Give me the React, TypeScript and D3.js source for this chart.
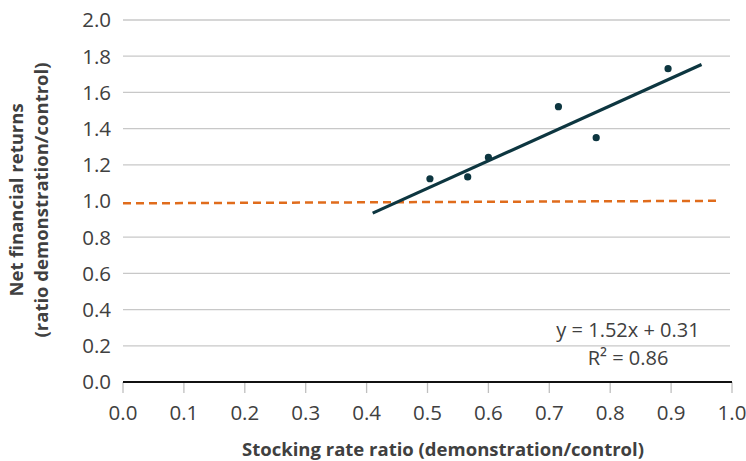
import React from "react";
import * as d3 from "d3";

const pointX = [0.504, 0.566, 0.6, 0.715, 0.777, 0.895];
const pointY = [1.123, 1.133, 1.241, 1.521, 1.35, 1.731];
const trendX = [0.41, 0.95];
const slope = 1.52;
const intercept = 0.31;
const refX = [0, 0.975];
const refY = [0.987, 1.001];
const xTicks = [0, 0.1, 0.2, 0.3, 0.4, 0.5, 0.6, 0.7, 0.8, 0.9, 1.0];
const yTicks = [0, 0.2, 0.4, 0.6, 0.8, 1.0, 1.2, 1.4, 1.6, 1.8, 2.0];
const equationText = "y = 1.52x + 0.31";
const r2Text = "R² = 0.86";
const xTitle = "Stocking rate ratio (demonstration/control)";
const yTitle1 = "Net financial returns";
const yTitle2 = "(ratio demonstration/control)";

export default function App() {
  const W = 746, H = 461;
  const x = d3.scaleLinear().domain([0, 1]).range([123, 732]);
  const y = d3.scaleLinear().domain([0, 2]).range([382, 20]);
  const font = "'Open Sans', 'Noto Sans', sans-serif";
  const textColor = "#404040";
  const line = d3.line<[number, number]>().x(d => x(d[0])).y(d => y(d[1]));
  const trendPts: [number, number][] = trendX.map(v => [v, slope * v + intercept]);
  const refPts: [number, number][] = refX.map((v, i) => [v, refY[i]]);
  return (
    <svg width={W} height={H} style={{ position: "absolute", left: 0, top: 0 }} fontFamily={font}>
      <rect width={W} height={H} fill="#fff" />
      {yTicks.filter(t => t > 0 && t !== 1.0).map(t => (
        <line key={"g" + t} x1={x(0)} x2={730} y1={y(t)} y2={y(t)} stroke="#c8c8c8" strokeWidth={1.3} />
      ))}
      {xTicks.map(t => (
        <line key={"xt" + t} x1={x(t)} x2={x(t)} y1={y(0)} y2={y(0) + 11} stroke="#bfbfbf" strokeWidth={1.3} />
      ))}
      <line x1={x(0)} x2={x(1)} y1={y(0)} y2={y(0)} stroke="#111" strokeWidth={2.2} />
      {yTicks.map(t => (
        <text key={"yl" + t} x={111} y={y(t)} dy="0.36em" textAnchor="end" fontSize={20.5} fill={textColor}>
          {d3.format(".1f")(t)}
        </text>
      ))}
      {xTicks.map(t => (
        <text key={"xl" + t} x={x(t)} y={420} textAnchor="middle" fontSize={20.5} fill={textColor}>
          {d3.format(".1f")(t)}
        </text>
      ))}
      <path d={line(refPts) || ""} stroke="#e06c1c" strokeWidth={2.5} strokeDasharray="8,5" fill="none" />
      <path d={line(trendPts) || ""} stroke="#0d3640" strokeWidth={3.2} fill="none" />
      {pointX.map((v, i) => (
        <circle key={"p" + i} cx={x(v)} cy={y(pointY[i])} r={3.6} fill="#0d3640" />
      ))}
      <text x={628} y={337} textAnchor="middle" fontSize={20} fill={textColor}>{equationText}</text>
      <text x={628} y={365} textAnchor="middle" fontSize={20} fill={textColor}>{r2Text}</text>
      <text x={443} y={456} textAnchor="middle" fontSize={18.5} fontWeight="bold" fill={textColor}>{xTitle}</text>
      <text transform="translate(23,200) rotate(-90)" textAnchor="middle" fontSize={18.5} fontWeight="bold" fill={textColor}>{yTitle1}</text>
      <text transform="translate(48,200) rotate(-90)" textAnchor="middle" fontSize={18.5} fontWeight="bold" fill={textColor}>{yTitle2}</text>
    </svg>
  );
}
